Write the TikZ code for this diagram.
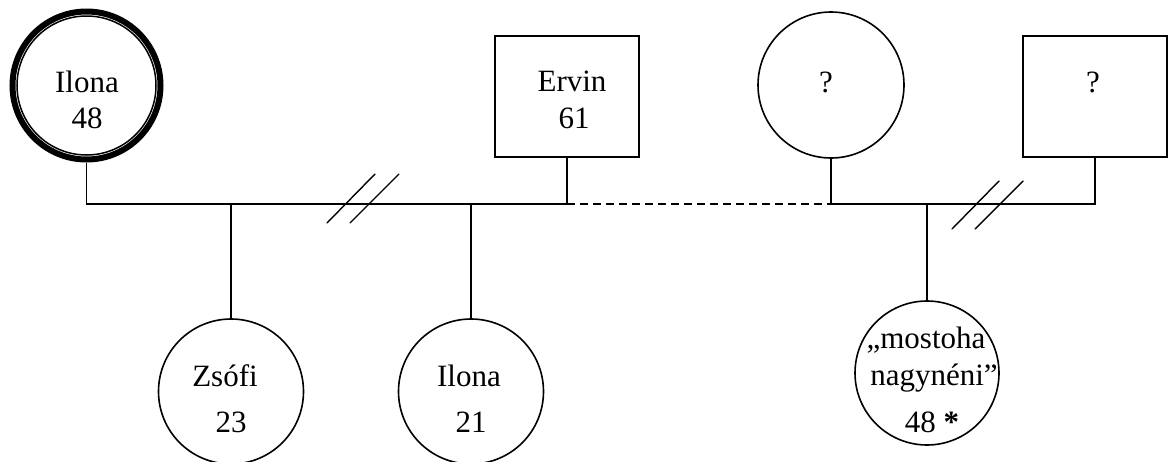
\documentclass[tikz,border=0pt]{standalone}
\usepackage{fontspec}
\setmainfont{Liberation Serif}
\begin{document}
\begin{tikzpicture}[x=1pt,y=-1pt,
  line width=1.6pt,
  female/.style={circle,draw,minimum size=#1,inner sep=0pt},
  male/.style={rectangle,draw,minimum width=144pt,minimum height=121pt,inner sep=0pt},
  txt/.style={anchor=base,inner sep=0pt,font=\fontsize{31}{37}\selectfont},
  marriage/.style={line width=1.6pt},
  divorce/.style={line width=1.4pt,line cap=round},
  liaison/.style={dash pattern=on 8pt off 5pt}]
\useasboundingbox (0,0) rectangle (1168,461);

% parents' generation
\node[female=148pt,line width=6pt] (ilona48) at (86.5,85.5) {};
\draw[line width=1.5pt] (ilona48.center) circle (69.5);
\node[male] (ervin) at (567,96.5) {};
\node[female=146pt] (qmother) at (831,85) {};
\node[male] (qfather) at (1095,96.5) {};

% children
\node[female=145pt] (zsofi) at (231,391.5) {};
\node[female=145pt] (ilona21) at (471,391.5) {};
\node[female=144pt] (aunt) at (927,373) {};

% labels
\node[txt] at (87,92) {Ilona};
\node[txt] at (87,128) {48};
\node[txt] at (572,91) {Ervin};
\node[txt] at (574,128) {61};
\node[txt] at (826,92) {?};
\node[txt] at (1093,92) {?};
\node[txt] at (225,386) {Zsófi};
\node[txt] at (231,432) {23};
\node[txt] at (469,386) {Ilona};
\node[txt] at (471,432) {21};
\node[txt] at (926,348) {„mostoha};
\node[txt] at (934,385) {nagynéni”};
\node[txt] at (932,432) {48 \textbf{*}};

% couple lines
\coordinate (m1) at (86.5,204);
\coordinate (m2) at (567,204);
\coordinate (m3) at (831,204);
\coordinate (m4) at (1095,204);
\draw[marriage] (ilona48.south) -- (m1) -- (m2) -- (ervin.south);
\draw[liaison] (m2) -- (m3);
\draw[marriage] (qmother.south) -- (m3) -- (m4) -- (qfather.south);

% descent lines
\coordinate (d1) at (231,204);
\coordinate (d2) at (471,204);
\coordinate (d3) at (927,204);
\draw (d1) -- (zsofi.north);
\draw (d2) -- (ilona21.north);
\draw (d3) -- (aunt.north);

% divorce marks
\coordinate (s1a) at (327,223); \coordinate (s1b) at (375,174);
\coordinate (s2a) at (350,223); \coordinate (s2b) at (399,174);
\coordinate (s3a) at (952,229); \coordinate (s3b) at (999,181);
\coordinate (s4a) at (975,229); \coordinate (s4b) at (1023,181);
\draw[divorce] (s1a) -- (s1b);
\draw[divorce] (s2a) -- (s2b);
\draw[divorce] (s3a) -- (s3b);
\draw[divorce] (s4a) -- (s4b);
\end{tikzpicture}
\end{document}
